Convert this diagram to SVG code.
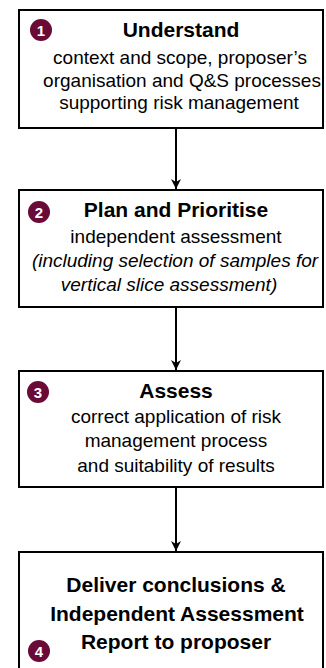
<svg xmlns="http://www.w3.org/2000/svg" width="326" height="668" viewBox="0 0 326 668">
<style>
.box{fill:#fff;stroke:#000;stroke-width:2}
.t{font-family:"Liberation Sans",Arial,sans-serif;font-weight:bold;font-size:21px;text-anchor:middle;fill:#000}
.b{font-family:"Liberation Sans",Arial,sans-serif;font-size:19px;text-anchor:middle;fill:#000}
.i{font-style:italic}
.badge{fill:#6a0a36}
.num{font-family:"Liberation Sans",Arial,sans-serif;font-weight:bold;font-size:15px;text-anchor:middle;fill:#fff}
.c{stroke:#000;stroke-width:2;fill:none}
</style>
<defs>
<marker id="ah" viewBox="0 0 10 14" refX="10" refY="7" markerWidth="10" markerHeight="14" markerUnits="userSpaceOnUse" orient="auto">
<path d="M0,2 L10,7 L0,12 L3,7 Z" fill="#000"/>
</marker>
</defs>
<rect width="326" height="668" fill="#fff"/>
<g id="connectors">
<line class="c" x1="176" y1="128" x2="176" y2="189" marker-end="url(#ah)"/>
<line class="c" x1="176" y1="307" x2="176" y2="370" marker-end="url(#ah)"/>
<line class="c" x1="176" y1="487" x2="176" y2="551" marker-end="url(#ah)"/>
</g>
<g id="node1">
<rect class="box" x="19" y="10" width="304" height="118"/>
<circle class="badge" cx="41" cy="30" r="11"/>
<text class="num" x="41" y="35.5">1</text>
<text class="t" x="181" y="37">Understand</text>
<text class="b" x="180" y="64">context and scope, proposer’s</text>
<text class="b" x="182" y="87">organisation and Q&amp;S processes</text>
<text class="b" x="179" y="109">supporting risk management</text>
</g>
<g id="node2">
<rect class="box" x="19" y="190" width="304" height="117"/>
<circle class="badge" cx="39" cy="212" r="11"/>
<text class="num" x="39" y="217.5">2</text>
<text class="t" x="176" y="217">Plan and Prioritise</text>
<text class="b" x="176" y="243">independent assessment</text>
<text class="b i" x="175" y="267">(including selection of samples for</text>
<text class="b i" x="169" y="291">vertical slice assessment)</text>
</g>
<g id="node3">
<rect class="box" x="19" y="371" width="304" height="116"/>
<circle class="badge" cx="38" cy="392" r="11"/>
<text class="num" x="38" y="397.5">3</text>
<text class="t" x="176" y="398">Assess</text>
<text class="b" x="176" y="423">correct application of risk</text>
<text class="b" x="176" y="447">management process</text>
<text class="b" x="176" y="472">and suitability of results</text>
</g>
<g id="node4">
<rect class="box" x="19" y="552" width="304" height="130"/>
<circle class="badge" cx="39" cy="651" r="11"/>
<text class="num" x="39" y="656.5">4</text>
<text class="t" x="176" y="592">Deliver conclusions &amp;</text>
<text class="t" x="177" y="621">Independent Assessment</text>
<text class="t" x="176" y="649">Report to proposer</text>
</g>
</svg>
